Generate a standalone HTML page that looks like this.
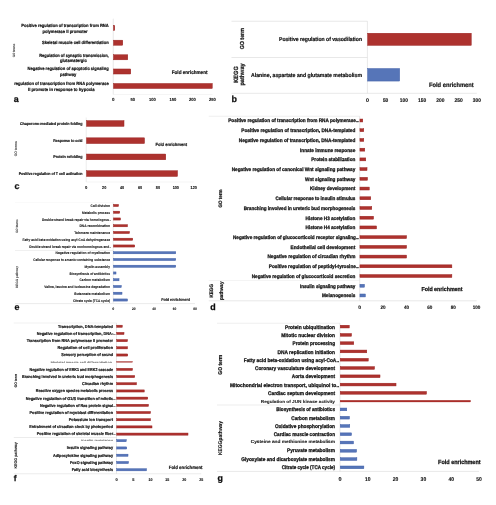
<!DOCTYPE html>
<html><head><meta charset="utf-8"><title>Figure</title>
<style>
html,body{margin:0;padding:0;background:#fff;}
body{width:496px;height:505px;overflow:hidden;font-family:"Liberation Sans",sans-serif;}
svg{display:block;}
svg text{font-family:"Liberation Sans",sans-serif;font-weight:bold;text-rendering:geometricPrecision;}
</style></head><body>
<svg width="496" height="505" viewBox="0 0 496 505">
<defs><filter id="bl" x="0" y="0" width="496" height="505" filterUnits="userSpaceOnUse"><feGaussianBlur stdDeviation="0.35"/></filter></defs>
<rect width="496" height="505" fill="#ffffff"/>
<g filter="url(#bl)">
<rect width="496" height="505" fill="#ffffff"/>
<line x1="113.25" y1="18.70" x2="113.25" y2="94.50" stroke="#d9d9d9" stroke-width="0.6"/>
<line x1="113.25" y1="94.50" x2="212.50" y2="94.50" stroke="#e6e6e6" stroke-width="0.4"/>
<rect x="113.47" y="25.48" width="1.30" height="5.05" fill="#ad312e" stroke="#98221f" stroke-width="0.45"/>
<text x="108.70" y="27.18" font-size="4.48" text-anchor="end" fill="#111111" stroke="#111111" stroke-width="0.2" textLength="87.45" lengthAdjust="spacingAndGlyphs">Positive regulation of transcription from RNA</text>
<text x="87.50" y="32.88" font-size="4.48" text-anchor="end" fill="#111111" stroke="#111111" stroke-width="0.2" textLength="45.00" lengthAdjust="spacingAndGlyphs">polymerase II promoter</text>
<rect x="113.47" y="40.18" width="9.30" height="5.05" fill="#ad312e" stroke="#98221f" stroke-width="0.45"/>
<text x="108.70" y="44.38" font-size="4.48" text-anchor="end" fill="#111111" stroke="#111111" stroke-width="0.2" textLength="66.70" lengthAdjust="spacingAndGlyphs">Skeletal muscle cell differentiation</text>
<rect x="113.47" y="54.77" width="14.30" height="5.05" fill="#ad312e" stroke="#98221f" stroke-width="0.45"/>
<text x="108.70" y="56.88" font-size="4.48" text-anchor="end" fill="#111111" stroke="#111111" stroke-width="0.2" textLength="69.45" lengthAdjust="spacingAndGlyphs">Regulation of synaptic transmission,</text>
<text x="86.75" y="62.18" font-size="4.48" text-anchor="end" fill="#111111" stroke="#111111" stroke-width="0.2" textLength="26.75" lengthAdjust="spacingAndGlyphs">glutamatergic</text>
<rect x="113.47" y="68.97" width="17.30" height="5.05" fill="#ad312e" stroke="#98221f" stroke-width="0.45"/>
<text x="108.70" y="70.18" font-size="4.48" text-anchor="end" fill="#111111" stroke="#111111" stroke-width="0.2" textLength="81.20" lengthAdjust="spacingAndGlyphs">Negative regulation of apoptotic signaling</text>
<text x="76.25" y="75.88" font-size="4.48" text-anchor="end" fill="#111111" stroke="#111111" stroke-width="0.2" textLength="16.25" lengthAdjust="spacingAndGlyphs">pathway</text>
<rect x="113.47" y="83.47" width="98.80" height="5.05" fill="#ad312e" stroke="#98221f" stroke-width="0.45"/>
<text x="108.70" y="85.18" font-size="4.48" text-anchor="end" fill="#111111" stroke="#111111" stroke-width="0.2" textLength="94.45" lengthAdjust="spacingAndGlyphs">regulation of transcription from RNA polymerase</text>
<text x="94.50" y="90.88" font-size="4.48" text-anchor="end" fill="#111111" stroke="#111111" stroke-width="0.2" textLength="66.50" lengthAdjust="spacingAndGlyphs">II promote in response to hypoxia</text>
<text x="113.25" y="101.17" font-size="4.46" text-anchor="middle" fill="#111111" stroke="#111111" stroke-width="0.1">0</text>
<text x="132.75" y="101.17" font-size="4.46" text-anchor="middle" fill="#111111" stroke="#111111" stroke-width="0.1" textLength="4.50" lengthAdjust="spacingAndGlyphs">50</text>
<text x="152.50" y="101.17" font-size="4.46" text-anchor="middle" fill="#111111" stroke="#111111" stroke-width="0.1" textLength="6.76" lengthAdjust="spacingAndGlyphs">100</text>
<text x="173.00" y="101.17" font-size="4.46" text-anchor="middle" fill="#111111" stroke="#111111" stroke-width="0.1" textLength="6.76" lengthAdjust="spacingAndGlyphs">150</text>
<text x="192.50" y="101.17" font-size="4.46" text-anchor="middle" fill="#111111" stroke="#111111" stroke-width="0.1" textLength="6.76" lengthAdjust="spacingAndGlyphs">200</text>
<text x="212.50" y="101.17" font-size="4.46" text-anchor="middle" fill="#111111" stroke="#111111" stroke-width="0.1" textLength="6.76" lengthAdjust="spacingAndGlyphs">250</text>
<text x="171.75" y="73.67" font-size="5.06" text-anchor="start" fill="#111111" stroke="#111111" stroke-width="0.2" textLength="35.78" lengthAdjust="spacingAndGlyphs">Fold enrichment</text>
<text x="13.70" y="102.00" font-size="8.9" fill="#111" stroke="#111" stroke-width="0.25">a</text>
<text transform="translate(15.09,50.50) rotate(-90)" font-size="3.30" text-anchor="middle" fill="#444" stroke="#444" stroke-width="0.05" textLength="13.67" lengthAdjust="spacingAndGlyphs">GO terms</text>
<line x1="231.50" y1="21.25" x2="367.40" y2="21.25" stroke="#d9d9d9" stroke-width="0.6"/>
<line x1="231.50" y1="57.50" x2="367.40" y2="57.50" stroke="#d9d9d9" stroke-width="0.6"/>
<line x1="231.50" y1="93.30" x2="476.80" y2="93.30" stroke="#d9d9d9" stroke-width="0.6"/>
<line x1="367.40" y1="21.25" x2="367.40" y2="93.30" stroke="#d9d9d9" stroke-width="0.6"/>
<rect x="367.62" y="33.23" width="103.65" height="12.15" fill="#ad312e" stroke="#98221f" stroke-width="0.45"/>
<rect x="367.62" y="68.52" width="32.05" height="12.55" fill="#5674b8" stroke="#3d5ca6" stroke-width="0.45"/>
<text x="362.00" y="41.11" font-size="5.64" text-anchor="end" fill="#111111" stroke="#111111" stroke-width="0.2" textLength="83.00" lengthAdjust="spacingAndGlyphs">Positive regulation of vasodilation</text>
<text x="362.00" y="77.36" font-size="5.64" text-anchor="end" fill="#111111" stroke="#111111" stroke-width="0.2" textLength="111.00" lengthAdjust="spacingAndGlyphs">Alanine, aspartate and glutamate metabolism</text>
<text x="367.40" y="102.38" font-size="5.39" text-anchor="middle" fill="#111111" stroke="#111111" stroke-width="0.12">0</text>
<text x="385.60" y="102.38" font-size="5.39" text-anchor="middle" fill="#111111" stroke="#111111" stroke-width="0.12" textLength="5.45" lengthAdjust="spacingAndGlyphs">50</text>
<text x="403.90" y="102.38" font-size="5.39" text-anchor="middle" fill="#111111" stroke="#111111" stroke-width="0.12" textLength="8.17" lengthAdjust="spacingAndGlyphs">100</text>
<text x="422.10" y="102.38" font-size="5.39" text-anchor="middle" fill="#111111" stroke="#111111" stroke-width="0.12" textLength="8.17" lengthAdjust="spacingAndGlyphs">150</text>
<text x="440.30" y="102.38" font-size="5.39" text-anchor="middle" fill="#111111" stroke="#111111" stroke-width="0.12" textLength="8.17" lengthAdjust="spacingAndGlyphs">200</text>
<text x="458.60" y="102.38" font-size="5.39" text-anchor="middle" fill="#111111" stroke="#111111" stroke-width="0.12" textLength="8.17" lengthAdjust="spacingAndGlyphs">250</text>
<text x="476.80" y="102.38" font-size="5.39" text-anchor="middle" fill="#111111" stroke="#111111" stroke-width="0.12" textLength="8.17" lengthAdjust="spacingAndGlyphs">300</text>
<text x="429.00" y="86.99" font-size="6.33" text-anchor="start" fill="#111111" stroke="#111111" stroke-width="0.2" textLength="44.72" lengthAdjust="spacingAndGlyphs">Fold enrichment</text>
<text x="231.40" y="102.00" font-size="8.9" fill="#111" stroke="#111" stroke-width="0.25">b</text>
<text transform="translate(243.92,38.75) rotate(-90)" font-size="5.83" text-anchor="middle" fill="#111111" stroke="#111111" stroke-width="0.2" textLength="21.20" lengthAdjust="spacingAndGlyphs">GO term</text>
<text transform="translate(237.78,74.50) rotate(-90)" font-size="6.16" text-anchor="middle" fill="#111111" stroke="#111111" stroke-width="0.2" textLength="16.49" lengthAdjust="spacingAndGlyphs">KEGG</text>
<text transform="translate(244.20,74.50) rotate(-90)" font-size="6.05" text-anchor="middle" fill="#111111" stroke="#111111" stroke-width="0.2" textLength="22.00" lengthAdjust="spacingAndGlyphs">pathway</text>
<line x1="86.25" y1="117.50" x2="86.25" y2="182.00" stroke="#e2e2e2" stroke-width="0.6"/>
<line x1="86.25" y1="182.00" x2="193.75" y2="182.00" stroke="#e2e2e2" stroke-width="0.4"/>
<rect x="86.47" y="120.62" width="37.55" height="5.75" fill="#ad312e" stroke="#98221f" stroke-width="0.45"/>
<text x="82.50" y="124.60" font-size="3.93" text-anchor="end" fill="#111111" stroke="#111111" stroke-width="0.17" textLength="62.50" lengthAdjust="spacingAndGlyphs">Chaperone-mediated protein folding</text>
<rect x="86.47" y="137.82" width="58.05" height="5.75" fill="#ad312e" stroke="#98221f" stroke-width="0.45"/>
<text x="82.50" y="141.80" font-size="3.93" text-anchor="end" fill="#111111" stroke="#111111" stroke-width="0.17" textLength="29.25" lengthAdjust="spacingAndGlyphs">Response to cold</text>
<rect x="86.47" y="154.03" width="79.30" height="5.75" fill="#ad312e" stroke="#98221f" stroke-width="0.45"/>
<text x="82.50" y="158.00" font-size="3.93" text-anchor="end" fill="#111111" stroke="#111111" stroke-width="0.17" textLength="29.25" lengthAdjust="spacingAndGlyphs">Protein refolding</text>
<rect x="86.47" y="170.72" width="91.05" height="5.75" fill="#ad312e" stroke="#98221f" stroke-width="0.45"/>
<text x="82.50" y="174.70" font-size="3.93" text-anchor="end" fill="#111111" stroke="#111111" stroke-width="0.17" textLength="63.75" lengthAdjust="spacingAndGlyphs">Positive regulation of T cell activation</text>
<text x="86.25" y="189.38" font-size="4.18" text-anchor="middle" fill="#111111" stroke="#111111" stroke-width="0.1">0</text>
<text x="104.20" y="189.38" font-size="4.18" text-anchor="middle" fill="#111111" stroke="#111111" stroke-width="0.1" textLength="4.23" lengthAdjust="spacingAndGlyphs">20</text>
<text x="122.10" y="189.38" font-size="4.18" text-anchor="middle" fill="#111111" stroke="#111111" stroke-width="0.1" textLength="4.23" lengthAdjust="spacingAndGlyphs">40</text>
<text x="140.00" y="189.38" font-size="4.18" text-anchor="middle" fill="#111111" stroke="#111111" stroke-width="0.1" textLength="4.23" lengthAdjust="spacingAndGlyphs">60</text>
<text x="157.90" y="189.38" font-size="4.18" text-anchor="middle" fill="#111111" stroke="#111111" stroke-width="0.1" textLength="4.23" lengthAdjust="spacingAndGlyphs">80</text>
<text x="175.80" y="189.38" font-size="4.18" text-anchor="middle" fill="#111111" stroke="#111111" stroke-width="0.1" textLength="6.34" lengthAdjust="spacingAndGlyphs">100</text>
<text x="193.75" y="189.38" font-size="4.18" text-anchor="middle" fill="#111111" stroke="#111111" stroke-width="0.1" textLength="6.34" lengthAdjust="spacingAndGlyphs">120</text>
<text x="155.50" y="145.97" font-size="4.46" text-anchor="start" fill="#111111" stroke="#111111" stroke-width="0.17" textLength="31.50" lengthAdjust="spacingAndGlyphs">Fold enrichment</text>
<text x="14.60" y="188.90" font-size="8.9" fill="#111" stroke="#111" stroke-width="0.25">c</text>
<text transform="translate(16.50,148.70) rotate(-90)" font-size="3.63" text-anchor="middle" fill="#444" stroke="#444" stroke-width="0.05" textLength="15.04" lengthAdjust="spacingAndGlyphs">GO terms</text>
<line x1="15.00" y1="202.50" x2="113.25" y2="202.50" stroke="#efefef" stroke-width="0.3"/>
<line x1="15.00" y1="250.50" x2="113.25" y2="250.50" stroke="#d9d9d9" stroke-width="0.4"/>
<line x1="15.00" y1="303.60" x2="195.00" y2="303.60" stroke="#d9d9d9" stroke-width="0.5"/>
<line x1="113.25" y1="202.50" x2="113.25" y2="303.60" stroke="#e2e2e2" stroke-width="0.6"/>
<rect x="113.47" y="204.42" width="5.05" height="2.15" fill="#ad312e" stroke="#98221f" stroke-width="0.45"/>
<text x="110.00" y="207.04" font-size="3.60" text-anchor="end" fill="#222" stroke="#222" stroke-width="0.09" textLength="19.50" lengthAdjust="spacingAndGlyphs">Cell division</text>
<rect x="113.47" y="211.17" width="6.30" height="2.15" fill="#ad312e" stroke="#98221f" stroke-width="0.45"/>
<text x="110.00" y="213.79" font-size="3.60" text-anchor="end" fill="#222" stroke="#222" stroke-width="0.09" textLength="28.00" lengthAdjust="spacingAndGlyphs">Metabolic process</text>
<rect x="113.47" y="217.92" width="7.05" height="2.15" fill="#ad312e" stroke="#98221f" stroke-width="0.45"/>
<text x="109.17" y="220.54" font-size="3.60" text-anchor="end" fill="#222" stroke="#222" stroke-width="0.09" textLength="67.17" lengthAdjust="spacingAndGlyphs">Double-strand break repair via homologous</text>
<text x="111.20" y="220.54" font-size="3.60" text-anchor="end" fill="#222" stroke="#222" stroke-width="0.09" textLength="1.87" lengthAdjust="spacingAndGlyphs">...</text>
<rect x="113.47" y="224.67" width="14.05" height="2.15" fill="#ad312e" stroke="#98221f" stroke-width="0.45"/>
<text x="110.00" y="227.29" font-size="3.60" text-anchor="end" fill="#222" stroke="#222" stroke-width="0.09" textLength="30.50" lengthAdjust="spacingAndGlyphs">DNA recombination</text>
<rect x="113.47" y="231.42" width="16.05" height="2.15" fill="#ad312e" stroke="#98221f" stroke-width="0.45"/>
<text x="110.00" y="234.04" font-size="3.60" text-anchor="end" fill="#222" stroke="#222" stroke-width="0.09" textLength="35.75" lengthAdjust="spacingAndGlyphs">Telomere maintenance</text>
<rect x="113.47" y="238.17" width="19.30" height="2.15" fill="#ad312e" stroke="#98221f" stroke-width="0.45"/>
<text x="110.00" y="240.79" font-size="3.60" text-anchor="end" fill="#222" stroke="#222" stroke-width="0.09" textLength="87.50" lengthAdjust="spacingAndGlyphs">Fatty acid beta-oxidation using acyl-CoA dehydrogenase</text>
<rect x="113.47" y="244.92" width="21.30" height="2.15" fill="#ad312e" stroke="#98221f" stroke-width="0.45"/>
<text x="109.17" y="247.54" font-size="3.60" text-anchor="end" fill="#222" stroke="#222" stroke-width="0.09" textLength="79.92" lengthAdjust="spacingAndGlyphs">Double-strand break repair via nonhomologous end</text>
<text x="111.20" y="247.54" font-size="3.60" text-anchor="end" fill="#222" stroke="#222" stroke-width="0.09" textLength="1.87" lengthAdjust="spacingAndGlyphs">...</text>
<rect x="113.47" y="251.67" width="62.30" height="2.15" fill="#5674b8" stroke="#3d5ca6" stroke-width="0.45"/>
<text x="110.00" y="254.29" font-size="3.60" text-anchor="end" fill="#222" stroke="#222" stroke-width="0.09" textLength="54.50" lengthAdjust="spacingAndGlyphs">Negative regulation of myelination</text>
<rect x="113.47" y="258.43" width="62.30" height="2.15" fill="#5674b8" stroke="#3d5ca6" stroke-width="0.45"/>
<text x="110.00" y="261.04" font-size="3.60" text-anchor="end" fill="#222" stroke="#222" stroke-width="0.09" textLength="76.75" lengthAdjust="spacingAndGlyphs">Cellular response to arsenic-containing substance</text>
<rect x="113.47" y="265.18" width="62.30" height="2.15" fill="#5674b8" stroke="#3d5ca6" stroke-width="0.45"/>
<text x="110.00" y="267.79" font-size="3.60" text-anchor="end" fill="#222" stroke="#222" stroke-width="0.09" textLength="25.50" lengthAdjust="spacingAndGlyphs">Myelin assembly</text>
<rect x="113.47" y="271.93" width="2.55" height="2.15" fill="#5674b8" stroke="#3d5ca6" stroke-width="0.45"/>
<text x="110.00" y="274.54" font-size="3.60" text-anchor="end" fill="#222" stroke="#222" stroke-width="0.09" textLength="40.50" lengthAdjust="spacingAndGlyphs">Biosynthesis of antibiotics</text>
<rect x="113.47" y="278.68" width="5.55" height="2.15" fill="#5674b8" stroke="#3d5ca6" stroke-width="0.45"/>
<text x="110.00" y="281.29" font-size="3.60" text-anchor="end" fill="#222" stroke="#222" stroke-width="0.09" textLength="30.50" lengthAdjust="spacingAndGlyphs">Carbon metabolism</text>
<rect x="113.47" y="285.43" width="7.80" height="2.15" fill="#5674b8" stroke="#3d5ca6" stroke-width="0.45"/>
<text x="110.00" y="288.04" font-size="3.60" text-anchor="end" fill="#222" stroke="#222" stroke-width="0.09" textLength="65.75" lengthAdjust="spacingAndGlyphs">Valine, leucine and isoleucine degradation</text>
<rect x="113.47" y="292.18" width="8.55" height="2.15" fill="#5674b8" stroke="#3d5ca6" stroke-width="0.45"/>
<text x="110.00" y="294.79" font-size="3.60" text-anchor="end" fill="#222" stroke="#222" stroke-width="0.09" textLength="35.75" lengthAdjust="spacingAndGlyphs">Butanoate metabolism</text>
<rect x="113.47" y="298.93" width="14.05" height="2.15" fill="#5674b8" stroke="#3d5ca6" stroke-width="0.45"/>
<text x="110.00" y="301.54" font-size="3.60" text-anchor="end" fill="#222" stroke="#222" stroke-width="0.09" textLength="37.00" lengthAdjust="spacingAndGlyphs">Citrate cycle (TCA cycle)</text>
<text x="113.25" y="309.91" font-size="3.52" text-anchor="middle" fill="#111111" stroke="#111111" stroke-width="0.08">0</text>
<text x="133.70" y="309.91" font-size="3.52" text-anchor="middle" fill="#111111" stroke="#111111" stroke-width="0.08" textLength="3.56" lengthAdjust="spacingAndGlyphs">20</text>
<text x="154.10" y="309.91" font-size="3.52" text-anchor="middle" fill="#111111" stroke="#111111" stroke-width="0.08" textLength="3.56" lengthAdjust="spacingAndGlyphs">40</text>
<text x="174.60" y="309.91" font-size="3.52" text-anchor="middle" fill="#111111" stroke="#111111" stroke-width="0.08" textLength="3.56" lengthAdjust="spacingAndGlyphs">60</text>
<text x="195.00" y="309.91" font-size="3.52" text-anchor="middle" fill="#111111" stroke="#111111" stroke-width="0.08" textLength="3.56" lengthAdjust="spacingAndGlyphs">80</text>
<text x="161.25" y="301.34" font-size="4.07" text-anchor="start" fill="#111111" stroke="#111111" stroke-width="0.12" textLength="28.78" lengthAdjust="spacingAndGlyphs">Fold enrichment</text>
<text x="14.60" y="309.90" font-size="8.9" fill="#111" stroke="#111" stroke-width="0.25">e</text>
<text transform="translate(18.09,226.20) rotate(-90)" font-size="3.30" text-anchor="middle" fill="#444" stroke="#444" stroke-width="0.05" textLength="13.67" lengthAdjust="spacingAndGlyphs">GO terms</text>
<text transform="translate(18.09,277.00) rotate(-90)" font-size="3.30" text-anchor="middle" fill="#444" stroke="#444" stroke-width="0.05" textLength="21.67" lengthAdjust="spacingAndGlyphs">KEGG pathway</text>
<line x1="208.75" y1="116.25" x2="359.70" y2="116.25" stroke="#d9d9d9" stroke-width="0.4"/>
<line x1="208.75" y1="280.50" x2="359.70" y2="280.50" stroke="#e4e4e4" stroke-width="0.4"/>
<line x1="208.75" y1="300.80" x2="476.60" y2="300.80" stroke="#d9d9d9" stroke-width="0.6"/>
<line x1="359.70" y1="116.25" x2="359.70" y2="300.80" stroke="#d9d9d9" stroke-width="0.6"/>
<rect x="359.93" y="119.02" width="2.85" height="2.95" fill="#ad312e" stroke="#98221f" stroke-width="0.45"/>
<text x="355.92" y="122.41" font-size="5.03" text-anchor="end" fill="#111111" stroke="#111111" stroke-width="0.26" textLength="127.67" lengthAdjust="spacingAndGlyphs">Positive regulation of transcription from RNA polymerase</text>
<text x="358.75" y="122.41" font-size="5.03" text-anchor="end" fill="#111111" stroke="#111111" stroke-width="0.26" textLength="2.61" lengthAdjust="spacingAndGlyphs">...</text>
<rect x="359.93" y="128.75" width="3.85" height="2.95" fill="#ad312e" stroke="#98221f" stroke-width="0.45"/>
<text x="355.30" y="132.13" font-size="5.03" text-anchor="end" fill="#111111" stroke="#111111" stroke-width="0.26" textLength="114.05" lengthAdjust="spacingAndGlyphs">Positive regulation of transcription, DNA-templated</text>
<rect x="359.93" y="138.47" width="3.85" height="2.95" fill="#ad312e" stroke="#98221f" stroke-width="0.45"/>
<text x="355.30" y="141.85" font-size="5.03" text-anchor="end" fill="#111111" stroke="#111111" stroke-width="0.26" textLength="116.55" lengthAdjust="spacingAndGlyphs">Negative regulation of transcription, DNA-templated</text>
<rect x="359.93" y="148.19" width="4.85" height="2.95" fill="#ad312e" stroke="#98221f" stroke-width="0.45"/>
<text x="355.30" y="151.57" font-size="5.03" text-anchor="end" fill="#111111" stroke="#111111" stroke-width="0.26" textLength="55.30" lengthAdjust="spacingAndGlyphs">Innate immune response</text>
<rect x="359.93" y="157.91" width="5.85" height="2.95" fill="#ad312e" stroke="#98221f" stroke-width="0.45"/>
<text x="355.30" y="161.29" font-size="5.03" text-anchor="end" fill="#111111" stroke="#111111" stroke-width="0.26" textLength="44.05" lengthAdjust="spacingAndGlyphs">Protein stabilization</text>
<rect x="359.93" y="167.62" width="7.10" height="2.95" fill="#ad312e" stroke="#98221f" stroke-width="0.45"/>
<text x="355.30" y="171.01" font-size="5.03" text-anchor="end" fill="#111111" stroke="#111111" stroke-width="0.26" textLength="123.55" lengthAdjust="spacingAndGlyphs">Negative regulation of canonical Wnt signaling pathway</text>
<rect x="359.93" y="177.34" width="7.60" height="2.95" fill="#ad312e" stroke="#98221f" stroke-width="0.45"/>
<text x="355.30" y="180.73" font-size="5.03" text-anchor="end" fill="#111111" stroke="#111111" stroke-width="0.26" textLength="50.30" lengthAdjust="spacingAndGlyphs">Wnt signaling pathway</text>
<rect x="359.93" y="187.07" width="9.35" height="2.95" fill="#ad312e" stroke="#98221f" stroke-width="0.45"/>
<text x="355.30" y="190.45" font-size="5.03" text-anchor="end" fill="#111111" stroke="#111111" stroke-width="0.26" textLength="45.30" lengthAdjust="spacingAndGlyphs">Kidney development</text>
<rect x="359.93" y="196.78" width="10.85" height="2.95" fill="#ad312e" stroke="#98221f" stroke-width="0.45"/>
<text x="355.30" y="200.17" font-size="5.03" text-anchor="end" fill="#111111" stroke="#111111" stroke-width="0.26" textLength="79.80" lengthAdjust="spacingAndGlyphs">Cellular response to insulin stimulus</text>
<rect x="359.93" y="206.51" width="11.85" height="2.95" fill="#ad312e" stroke="#98221f" stroke-width="0.45"/>
<text x="355.30" y="209.89" font-size="5.03" text-anchor="end" fill="#111111" stroke="#111111" stroke-width="0.26" textLength="111.55" lengthAdjust="spacingAndGlyphs">Branching involved in ureteric bud morphogenesis</text>
<rect x="359.93" y="216.22" width="13.65" height="2.95" fill="#ad312e" stroke="#98221f" stroke-width="0.45"/>
<text x="355.30" y="219.61" font-size="5.03" text-anchor="end" fill="#111111" stroke="#111111" stroke-width="0.26" textLength="49.80" lengthAdjust="spacingAndGlyphs">Histone H3 acetylation</text>
<rect x="359.93" y="225.95" width="16.65" height="2.95" fill="#ad312e" stroke="#98221f" stroke-width="0.45"/>
<text x="355.30" y="229.33" font-size="5.03" text-anchor="end" fill="#111111" stroke="#111111" stroke-width="0.26" textLength="49.80" lengthAdjust="spacingAndGlyphs">Histone H4 acetylation</text>
<rect x="359.93" y="235.67" width="46.65" height="2.95" fill="#ad312e" stroke="#98221f" stroke-width="0.45"/>
<text x="355.92" y="239.05" font-size="5.03" text-anchor="end" fill="#111111" stroke="#111111" stroke-width="0.26" textLength="122.92" lengthAdjust="spacingAndGlyphs">Negative regulation of glucocorticoid receptor signaling</text>
<text x="358.75" y="239.05" font-size="5.03" text-anchor="end" fill="#111111" stroke="#111111" stroke-width="0.26" textLength="2.61" lengthAdjust="spacingAndGlyphs">...</text>
<rect x="359.93" y="245.39" width="46.65" height="2.95" fill="#ad312e" stroke="#98221f" stroke-width="0.45"/>
<text x="355.30" y="248.77" font-size="5.03" text-anchor="end" fill="#111111" stroke="#111111" stroke-width="0.26" textLength="64.80" lengthAdjust="spacingAndGlyphs">Endothelial cell development</text>
<rect x="359.93" y="255.11" width="46.65" height="2.95" fill="#ad312e" stroke="#98221f" stroke-width="0.45"/>
<text x="355.30" y="258.49" font-size="5.03" text-anchor="end" fill="#111111" stroke="#111111" stroke-width="0.26" textLength="87.80" lengthAdjust="spacingAndGlyphs">Negative regulation of circadian rhythm</text>
<rect x="359.93" y="264.83" width="91.95" height="2.95" fill="#ad312e" stroke="#98221f" stroke-width="0.45"/>
<text x="355.92" y="268.21" font-size="5.03" text-anchor="end" fill="#111111" stroke="#111111" stroke-width="0.26" textLength="87.17" lengthAdjust="spacingAndGlyphs">Positive regulation of peptidyl-tyrosine</text>
<text x="358.75" y="268.21" font-size="5.03" text-anchor="end" fill="#111111" stroke="#111111" stroke-width="0.26" textLength="2.61" lengthAdjust="spacingAndGlyphs">...</text>
<rect x="359.93" y="274.55" width="91.95" height="2.95" fill="#ad312e" stroke="#98221f" stroke-width="0.45"/>
<text x="355.30" y="277.93" font-size="5.03" text-anchor="end" fill="#111111" stroke="#111111" stroke-width="0.26" textLength="103.55" lengthAdjust="spacingAndGlyphs">Negative regulation of glucocorticoid secretion</text>
<rect x="359.93" y="284.27" width="4.55" height="2.95" fill="#5674b8" stroke="#3d5ca6" stroke-width="0.45"/>
<text x="355.30" y="287.65" font-size="5.03" text-anchor="end" fill="#111111" stroke="#111111" stroke-width="0.26" textLength="55.30" lengthAdjust="spacingAndGlyphs">Insulin signaling pathway</text>
<rect x="359.93" y="293.99" width="5.45" height="2.95" fill="#5674b8" stroke="#3d5ca6" stroke-width="0.45"/>
<text x="355.30" y="297.37" font-size="5.03" text-anchor="end" fill="#111111" stroke="#111111" stroke-width="0.26" textLength="33.30" lengthAdjust="spacingAndGlyphs">Melanogenesis</text>
<text x="359.70" y="309.17" font-size="5.06" text-anchor="middle" fill="#111111" stroke="#111111" stroke-width="0.12">0</text>
<text x="383.10" y="309.17" font-size="5.06" text-anchor="middle" fill="#111111" stroke="#111111" stroke-width="0.12" textLength="5.12" lengthAdjust="spacingAndGlyphs">20</text>
<text x="406.50" y="309.17" font-size="5.06" text-anchor="middle" fill="#111111" stroke="#111111" stroke-width="0.12" textLength="5.12" lengthAdjust="spacingAndGlyphs">40</text>
<text x="429.80" y="309.17" font-size="5.06" text-anchor="middle" fill="#111111" stroke="#111111" stroke-width="0.12" textLength="5.12" lengthAdjust="spacingAndGlyphs">60</text>
<text x="453.20" y="309.17" font-size="5.06" text-anchor="middle" fill="#111111" stroke="#111111" stroke-width="0.12" textLength="5.12" lengthAdjust="spacingAndGlyphs">80</text>
<text x="476.60" y="309.17" font-size="5.06" text-anchor="middle" fill="#111111" stroke="#111111" stroke-width="0.12" textLength="7.67" lengthAdjust="spacingAndGlyphs">100</text>
<text x="421.50" y="291.41" font-size="5.80" text-anchor="start" fill="#111111" stroke="#111111" stroke-width="0.26" textLength="40.99" lengthAdjust="spacingAndGlyphs">Fold enrichment</text>
<text x="210.20" y="309.85" font-size="8.9" fill="#111" stroke="#111" stroke-width="0.25">d</text>
<text transform="translate(221.93,198.50) rotate(-90)" font-size="4.95" text-anchor="middle" fill="#111111" stroke="#111111" stroke-width="0.2" textLength="18.00" lengthAdjust="spacingAndGlyphs">GO term</text>
<text transform="translate(213.42,290.75) rotate(-90)" font-size="5.06" text-anchor="middle" fill="#111111" stroke="#111111" stroke-width="0.2" textLength="13.55" lengthAdjust="spacingAndGlyphs">KEGG</text>
<text transform="translate(222.92,290.75) rotate(-90)" font-size="5.06" text-anchor="middle" fill="#111111" stroke="#111111" stroke-width="0.2" textLength="18.40" lengthAdjust="spacingAndGlyphs">pathway</text>
<line x1="13.75" y1="323.00" x2="116.50" y2="323.00" stroke="#d9d9d9" stroke-width="0.4"/>
<line x1="13.75" y1="437.50" x2="116.50" y2="437.50" stroke="#d9d9d9" stroke-width="0.5"/>
<line x1="13.75" y1="473.75" x2="201.25" y2="473.75" stroke="#d9d9d9" stroke-width="0.5"/>
<line x1="116.50" y1="323.00" x2="116.50" y2="473.75" stroke="#d9d9d9" stroke-width="0.6"/>
<rect x="116.72" y="325.18" width="5.55" height="2.15" fill="#ad312e" stroke="#98221f" stroke-width="0.45"/>
<text x="113.00" y="327.62" font-size="4.16" text-anchor="end" fill="#111111" stroke="#111111" stroke-width="0.18" textLength="55.00" lengthAdjust="spacingAndGlyphs">Transcription, DNA-templated</text>
<rect x="116.72" y="332.37" width="7.30" height="2.15" fill="#ad312e" stroke="#98221f" stroke-width="0.45"/>
<text x="113.16" y="334.81" font-size="4.16" text-anchor="end" fill="#111111" stroke="#111111" stroke-width="0.18" textLength="76.41" lengthAdjust="spacingAndGlyphs">Negative regulation of transcription, DNA-</text>
<text x="115.50" y="334.81" font-size="4.16" text-anchor="end" fill="#111111" stroke="#111111" stroke-width="0.18" textLength="2.16" lengthAdjust="spacingAndGlyphs">...</text>
<rect x="116.72" y="339.56" width="10.80" height="2.15" fill="#ad312e" stroke="#98221f" stroke-width="0.45"/>
<text x="113.00" y="342.00" font-size="4.16" text-anchor="end" fill="#111111" stroke="#111111" stroke-width="0.18" textLength="86.25" lengthAdjust="spacingAndGlyphs">Transcription from RNA polymerase II promoter</text>
<rect x="116.72" y="346.75" width="10.80" height="2.15" fill="#ad312e" stroke="#98221f" stroke-width="0.45"/>
<text x="113.00" y="349.19" font-size="4.16" text-anchor="end" fill="#111111" stroke="#111111" stroke-width="0.18" textLength="55.50" lengthAdjust="spacingAndGlyphs">Regulation of cell proliferation</text>
<rect x="116.72" y="353.94" width="11.05" height="2.15" fill="#ad312e" stroke="#98221f" stroke-width="0.45"/>
<text x="113.00" y="356.38" font-size="4.16" text-anchor="end" fill="#111111" stroke="#111111" stroke-width="0.18" textLength="51.75" lengthAdjust="spacingAndGlyphs">Sensory perception of sound</text>
<rect x="116.62" y="361.47" width="16.00" height="0.85" fill="#ad312e" stroke="#98221f" stroke-width="0.25"/>
<text x="112.00" y="362.65" font-size="2.27" text-anchor="end" fill="#555" stroke="#555" stroke-width="0.0" textLength="61.50" lengthAdjust="spacingAndGlyphs">Skeletal muscle cell differentiation</text>
<rect x="116.72" y="368.31" width="15.80" height="2.15" fill="#ad312e" stroke="#98221f" stroke-width="0.45"/>
<text x="113.00" y="370.76" font-size="4.16" text-anchor="end" fill="#111111" stroke="#111111" stroke-width="0.18" textLength="83.50" lengthAdjust="spacingAndGlyphs">Negative regulation of ERK1 and ERK2 cascade</text>
<rect x="116.72" y="375.50" width="18.05" height="2.15" fill="#ad312e" stroke="#98221f" stroke-width="0.45"/>
<text x="113.00" y="377.95" font-size="4.16" text-anchor="end" fill="#111111" stroke="#111111" stroke-width="0.18" textLength="91.00" lengthAdjust="spacingAndGlyphs">Branching involved in ureteric bud morphogenesis</text>
<rect x="116.72" y="382.69" width="19.80" height="2.15" fill="#ad312e" stroke="#98221f" stroke-width="0.45"/>
<text x="113.00" y="385.14" font-size="4.16" text-anchor="end" fill="#111111" stroke="#111111" stroke-width="0.18" textLength="31.00" lengthAdjust="spacingAndGlyphs">Circadian rhythm</text>
<rect x="116.72" y="389.89" width="27.55" height="2.15" fill="#ad312e" stroke="#98221f" stroke-width="0.45"/>
<text x="113.00" y="392.33" font-size="4.16" text-anchor="end" fill="#111111" stroke="#111111" stroke-width="0.18" textLength="77.25" lengthAdjust="spacingAndGlyphs">Reactive oxygen species metabolic process</text>
<rect x="116.72" y="397.07" width="31.05" height="2.15" fill="#ad312e" stroke="#98221f" stroke-width="0.45"/>
<text x="113.16" y="399.52" font-size="4.16" text-anchor="end" fill="#111111" stroke="#111111" stroke-width="0.18" textLength="87.41" lengthAdjust="spacingAndGlyphs">Negative regulation of G1/S transition of mitotic</text>
<text x="115.50" y="399.52" font-size="4.16" text-anchor="end" fill="#111111" stroke="#111111" stroke-width="0.18" textLength="2.16" lengthAdjust="spacingAndGlyphs">...</text>
<rect x="116.72" y="404.27" width="31.80" height="2.15" fill="#ad312e" stroke="#98221f" stroke-width="0.45"/>
<text x="113.16" y="406.71" font-size="4.16" text-anchor="end" fill="#111111" stroke="#111111" stroke-width="0.18" textLength="73.16" lengthAdjust="spacingAndGlyphs">Negative regulation of Ras protein signal</text>
<text x="115.50" y="406.71" font-size="4.16" text-anchor="end" fill="#111111" stroke="#111111" stroke-width="0.18" textLength="2.16" lengthAdjust="spacingAndGlyphs">...</text>
<rect x="116.72" y="411.45" width="33.80" height="2.15" fill="#ad312e" stroke="#98221f" stroke-width="0.45"/>
<text x="113.00" y="413.90" font-size="4.16" text-anchor="end" fill="#111111" stroke="#111111" stroke-width="0.18" textLength="83.50" lengthAdjust="spacingAndGlyphs">Positive regulation of myoblast differentiation</text>
<rect x="116.72" y="418.65" width="33.80" height="2.15" fill="#ad312e" stroke="#98221f" stroke-width="0.45"/>
<text x="113.00" y="421.09" font-size="4.16" text-anchor="end" fill="#111111" stroke="#111111" stroke-width="0.18" textLength="44.25" lengthAdjust="spacingAndGlyphs">Potassium ion transport</text>
<rect x="116.72" y="425.84" width="35.30" height="2.15" fill="#ad312e" stroke="#98221f" stroke-width="0.45"/>
<text x="113.00" y="428.28" font-size="4.16" text-anchor="end" fill="#111111" stroke="#111111" stroke-width="0.18" textLength="83.75" lengthAdjust="spacingAndGlyphs">Entrainment of circadian clock by photoperiod</text>
<rect x="116.72" y="433.03" width="71.30" height="2.15" fill="#ad312e" stroke="#98221f" stroke-width="0.45"/>
<text x="113.16" y="435.47" font-size="4.16" text-anchor="end" fill="#111111" stroke="#111111" stroke-width="0.18" textLength="76.41" lengthAdjust="spacingAndGlyphs">Positive regulation of skeletal muscle fiber</text>
<text x="115.50" y="435.47" font-size="4.16" text-anchor="end" fill="#111111" stroke="#111111" stroke-width="0.18" textLength="2.16" lengthAdjust="spacingAndGlyphs">...</text>
<rect x="116.72" y="439.62" width="9.55" height="2.15" fill="#5674b8" stroke="#3d5ca6" stroke-width="0.45"/>
<text x="113.00" y="441.45" font-size="2.27" text-anchor="end" fill="#555" stroke="#555" stroke-width="0.0" textLength="31.75" lengthAdjust="spacingAndGlyphs">Insulin resistance</text>
<rect x="116.72" y="446.89" width="10.05" height="2.15" fill="#5674b8" stroke="#3d5ca6" stroke-width="0.45"/>
<text x="113.00" y="449.34" font-size="4.16" text-anchor="end" fill="#111111" stroke="#111111" stroke-width="0.18" textLength="46.25" lengthAdjust="spacingAndGlyphs">Insulin signaling pathway</text>
<rect x="116.72" y="454.17" width="11.30" height="2.15" fill="#5674b8" stroke="#3d5ca6" stroke-width="0.45"/>
<text x="113.00" y="456.61" font-size="4.16" text-anchor="end" fill="#111111" stroke="#111111" stroke-width="0.18" textLength="60.00" lengthAdjust="spacingAndGlyphs">Adipocytokine signaling pathway</text>
<rect x="116.72" y="461.44" width="11.80" height="2.15" fill="#5674b8" stroke="#3d5ca6" stroke-width="0.45"/>
<text x="113.00" y="463.88" font-size="4.16" text-anchor="end" fill="#111111" stroke="#111111" stroke-width="0.18" textLength="43.00" lengthAdjust="spacingAndGlyphs">FoxO signaling pathway</text>
<rect x="116.72" y="468.70" width="29.80" height="2.15" fill="#5674b8" stroke="#3d5ca6" stroke-width="0.45"/>
<text x="113.00" y="471.15" font-size="4.16" text-anchor="end" fill="#111111" stroke="#111111" stroke-width="0.18" textLength="41.25" lengthAdjust="spacingAndGlyphs">Fatty acid biosynthesis</text>
<text x="116.50" y="481.01" font-size="3.96" text-anchor="middle" fill="#111111" stroke="#111111" stroke-width="0.1">0</text>
<text x="133.45" y="481.01" font-size="3.96" text-anchor="middle" fill="#111111" stroke="#111111" stroke-width="0.1">5</text>
<text x="150.40" y="481.01" font-size="3.96" text-anchor="middle" fill="#111111" stroke="#111111" stroke-width="0.1" textLength="4.00" lengthAdjust="spacingAndGlyphs">10</text>
<text x="167.35" y="481.01" font-size="3.96" text-anchor="middle" fill="#111111" stroke="#111111" stroke-width="0.1" textLength="4.00" lengthAdjust="spacingAndGlyphs">15</text>
<text x="184.30" y="481.01" font-size="3.96" text-anchor="middle" fill="#111111" stroke="#111111" stroke-width="0.1" textLength="4.00" lengthAdjust="spacingAndGlyphs">20</text>
<text x="201.25" y="481.01" font-size="3.96" text-anchor="middle" fill="#111111" stroke="#111111" stroke-width="0.1" textLength="4.00" lengthAdjust="spacingAndGlyphs">25</text>
<text x="168.75" y="468.58" font-size="4.77" text-anchor="start" fill="#111111" stroke="#111111" stroke-width="0.18" textLength="33.76" lengthAdjust="spacingAndGlyphs">Fold enrichment</text>
<text x="13.70" y="480.80" font-size="8.3" fill="#111" stroke="#111" stroke-width="0.25">f</text>
<text transform="translate(16.73,380.60) rotate(-90)" font-size="3.74" text-anchor="middle" fill="#111111" stroke="#111111" stroke-width="0.08" textLength="13.60" lengthAdjust="spacingAndGlyphs">GO term</text>
<text transform="translate(16.82,455.40) rotate(-90)" font-size="4.02" text-anchor="middle" fill="#111111" stroke="#111111" stroke-width="0.08" textLength="26.36" lengthAdjust="spacingAndGlyphs">KEGG pathway</text>
<line x1="217.00" y1="323.25" x2="340.00" y2="323.25" stroke="#d9d9d9" stroke-width="0.4"/>
<line x1="217.00" y1="405.00" x2="340.00" y2="405.00" stroke="#d9d9d9" stroke-width="0.5"/>
<line x1="217.00" y1="471.40" x2="479.00" y2="471.40" stroke="#d9d9d9" stroke-width="0.6"/>
<line x1="340.00" y1="323.25" x2="340.00" y2="471.60" stroke="#d9d9d9" stroke-width="0.6"/>
<rect x="340.23" y="325.23" width="9.05" height="2.75" fill="#ad312e" stroke="#98221f" stroke-width="0.45"/>
<text x="335.00" y="328.94" font-size="5.28" text-anchor="end" fill="#111111" stroke="#111111" stroke-width="0.26" textLength="50.00" lengthAdjust="spacingAndGlyphs">Protein ubiquitination</text>
<rect x="340.23" y="333.50" width="11.30" height="2.75" fill="#ad312e" stroke="#98221f" stroke-width="0.45"/>
<text x="335.00" y="337.19" font-size="5.28" text-anchor="end" fill="#111111" stroke="#111111" stroke-width="0.26" textLength="53.75" lengthAdjust="spacingAndGlyphs">Mitotic nuclear division</text>
<rect x="340.23" y="341.79" width="13.55" height="2.75" fill="#ad312e" stroke="#98221f" stroke-width="0.45"/>
<text x="335.00" y="345.44" font-size="5.28" text-anchor="end" fill="#111111" stroke="#111111" stroke-width="0.26" textLength="42.50" lengthAdjust="spacingAndGlyphs">Protein processing</text>
<rect x="340.23" y="350.06" width="26.55" height="2.75" fill="#ad312e" stroke="#98221f" stroke-width="0.45"/>
<text x="335.00" y="353.69" font-size="5.28" text-anchor="end" fill="#111111" stroke="#111111" stroke-width="0.26" textLength="57.50" lengthAdjust="spacingAndGlyphs">DNA replication initiation</text>
<rect x="340.23" y="358.35" width="28.05" height="2.75" fill="#ad312e" stroke="#98221f" stroke-width="0.45"/>
<text x="336.27" y="361.94" font-size="5.28" text-anchor="end" fill="#111111" stroke="#111111" stroke-width="0.26" textLength="92.52" lengthAdjust="spacingAndGlyphs">Fatty acid beta-oxidation using acyl-CoA</text>
<text x="339.25" y="361.94" font-size="5.28" text-anchor="end" fill="#111111" stroke="#111111" stroke-width="0.26" textLength="2.74" lengthAdjust="spacingAndGlyphs">...</text>
<rect x="340.23" y="366.62" width="34.30" height="2.75" fill="#ad312e" stroke="#98221f" stroke-width="0.45"/>
<text x="335.00" y="370.19" font-size="5.28" text-anchor="end" fill="#111111" stroke="#111111" stroke-width="0.26" textLength="80.00" lengthAdjust="spacingAndGlyphs">Coronary vasculature development</text>
<rect x="340.23" y="374.91" width="39.80" height="2.75" fill="#ad312e" stroke="#98221f" stroke-width="0.45"/>
<text x="335.00" y="378.44" font-size="5.28" text-anchor="end" fill="#111111" stroke="#111111" stroke-width="0.26" textLength="43.25" lengthAdjust="spacingAndGlyphs">Aorta development</text>
<rect x="340.23" y="383.19" width="55.80" height="2.75" fill="#ad312e" stroke="#98221f" stroke-width="0.45"/>
<text x="336.27" y="386.69" font-size="5.28" text-anchor="end" fill="#111111" stroke="#111111" stroke-width="0.26" textLength="106.27" lengthAdjust="spacingAndGlyphs">Mitochondrial electron transport, ubiquinol to</text>
<text x="339.25" y="386.69" font-size="5.28" text-anchor="end" fill="#111111" stroke="#111111" stroke-width="0.26" textLength="2.74" lengthAdjust="spacingAndGlyphs">...</text>
<rect x="340.23" y="391.47" width="86.30" height="2.75" fill="#ad312e" stroke="#98221f" stroke-width="0.45"/>
<text x="335.00" y="394.94" font-size="5.28" text-anchor="end" fill="#111111" stroke="#111111" stroke-width="0.26" textLength="67.00" lengthAdjust="spacingAndGlyphs">Cardiac septum development</text>
<rect x="340.12" y="400.25" width="130.45" height="1.75" fill="#ad312e" stroke="#98221f" stroke-width="0.25"/>
<text x="335.00" y="402.87" font-size="4.29" text-anchor="end" fill="#2a2a2a" stroke="#2a2a2a" stroke-width="0.1" textLength="74.25" lengthAdjust="spacingAndGlyphs">Regulation of JUN kinase activity</text>
<rect x="340.23" y="408.03" width="6.55" height="2.75" fill="#5674b8" stroke="#3d5ca6" stroke-width="0.45"/>
<text x="335.00" y="411.44" font-size="5.28" text-anchor="end" fill="#111111" stroke="#111111" stroke-width="0.26" textLength="58.75" lengthAdjust="spacingAndGlyphs">Biosynthesis of antibiotics</text>
<rect x="340.23" y="416.31" width="9.25" height="2.75" fill="#5674b8" stroke="#3d5ca6" stroke-width="0.45"/>
<text x="335.00" y="419.69" font-size="5.28" text-anchor="end" fill="#111111" stroke="#111111" stroke-width="0.26" textLength="43.75" lengthAdjust="spacingAndGlyphs">Carbon metabolism</text>
<rect x="340.23" y="424.59" width="9.55" height="2.75" fill="#5674b8" stroke="#3d5ca6" stroke-width="0.45"/>
<text x="335.00" y="427.94" font-size="5.28" text-anchor="end" fill="#111111" stroke="#111111" stroke-width="0.26" textLength="60.00" lengthAdjust="spacingAndGlyphs">Oxidative phosphorylation</text>
<rect x="340.23" y="432.87" width="11.30" height="2.75" fill="#5674b8" stroke="#3d5ca6" stroke-width="0.45"/>
<text x="335.00" y="435.84" font-size="5.28" text-anchor="end" fill="#111111" stroke="#111111" stroke-width="0.26" textLength="61.25" lengthAdjust="spacingAndGlyphs">Cardiac muscle contraction</text>
<rect x="340.23" y="441.14" width="13.30" height="2.75" fill="#5674b8" stroke="#3d5ca6" stroke-width="0.45"/>
<text x="335.00" y="443.48" font-size="4.35" text-anchor="end" fill="#262626" stroke="#262626" stroke-width="0.12" textLength="84.25" lengthAdjust="spacingAndGlyphs">Cysteine and methionine metabolism</text>
<rect x="340.23" y="449.43" width="16.35" height="2.75" fill="#5674b8" stroke="#3d5ca6" stroke-width="0.45"/>
<text x="335.00" y="452.34" font-size="5.28" text-anchor="end" fill="#111111" stroke="#111111" stroke-width="0.26" textLength="48.00" lengthAdjust="spacingAndGlyphs">Pyruvate metabolism</text>
<rect x="340.23" y="457.71" width="16.65" height="2.75" fill="#5674b8" stroke="#3d5ca6" stroke-width="0.45"/>
<text x="335.00" y="460.59" font-size="5.28" text-anchor="end" fill="#111111" stroke="#111111" stroke-width="0.26" textLength="93.75" lengthAdjust="spacingAndGlyphs">Glyoxylate and dicarboxylate metabolism</text>
<rect x="340.23" y="465.99" width="23.65" height="2.75" fill="#5674b8" stroke="#3d5ca6" stroke-width="0.45"/>
<text x="335.00" y="468.84" font-size="5.28" text-anchor="end" fill="#111111" stroke="#111111" stroke-width="0.26" textLength="53.25" lengthAdjust="spacingAndGlyphs">Citrate cycle (TCA cycle)</text>
<text x="340.00" y="481.42" font-size="5.50" text-anchor="middle" fill="#111111" stroke="#111111" stroke-width="0.12">0</text>
<text x="367.80" y="481.42" font-size="5.50" text-anchor="middle" fill="#111111" stroke="#111111" stroke-width="0.12" textLength="5.56" lengthAdjust="spacingAndGlyphs">10</text>
<text x="395.60" y="481.42" font-size="5.50" text-anchor="middle" fill="#111111" stroke="#111111" stroke-width="0.12" textLength="5.56" lengthAdjust="spacingAndGlyphs">20</text>
<text x="423.40" y="481.42" font-size="5.50" text-anchor="middle" fill="#111111" stroke="#111111" stroke-width="0.12" textLength="5.56" lengthAdjust="spacingAndGlyphs">30</text>
<text x="451.20" y="481.42" font-size="5.50" text-anchor="middle" fill="#111111" stroke="#111111" stroke-width="0.12" textLength="5.56" lengthAdjust="spacingAndGlyphs">40</text>
<text x="479.00" y="481.42" font-size="5.50" text-anchor="middle" fill="#111111" stroke="#111111" stroke-width="0.12" textLength="5.56" lengthAdjust="spacingAndGlyphs">50</text>
<text x="438.10" y="463.78" font-size="6.01" text-anchor="start" fill="#111111" stroke="#111111" stroke-width="0.26" textLength="42.47" lengthAdjust="spacingAndGlyphs">Fold enrichment</text>
<text x="217.50" y="480.80" font-size="8.9" fill="#111" stroke="#111" stroke-width="0.25">g</text>
<text transform="translate(222.31,364.70) rotate(-90)" font-size="5.50" text-anchor="middle" fill="#111111" stroke="#111111" stroke-width="0.2" textLength="20.00" lengthAdjust="spacingAndGlyphs">GO term</text>
<text transform="translate(222.48,438.00) rotate(-90)" font-size="5.39" text-anchor="middle" fill="#111111" stroke="#111111" stroke-width="0.1" textLength="34.03" lengthAdjust="spacingAndGlyphs">KEGGpathway</text>
</g>
</svg>
</body></html>
